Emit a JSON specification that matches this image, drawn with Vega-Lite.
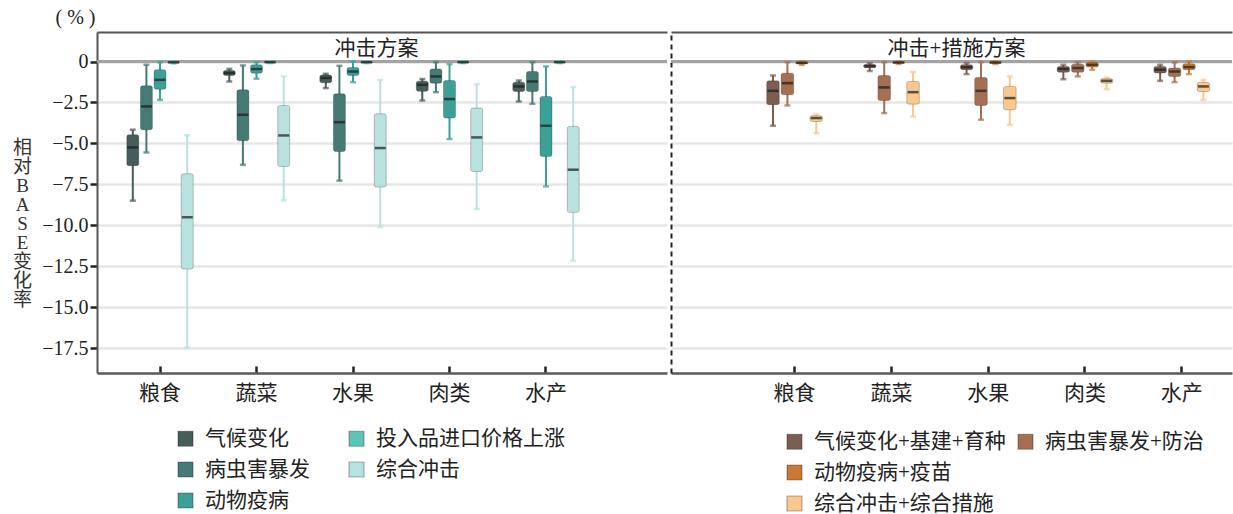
{
  "$schema": "https://vega.github.io/schema/vega-lite/v6.json",
  "background": "white",
  "padding": {"left": 12, "top": 8, "right": 1, "bottom": 0},
  "title": {
    "text": "( % )",
    "anchor": "start",
    "frame": "bounds",
    "dx": 43,
    "offset": 4,
    "font": "Liberation Serif",
    "fontSize": 20,
    "fontWeight": "normal",
    "color": "#222"
  },
  "datasets": {
    "shock": [
      {"food": "粮食", "scen": "气候变化", "min": -8.49, "q1": -6.36, "med": -5.24, "q3": -4.47, "max": -4.16},
      {"food": "粮食", "scen": "病虫害暴发", "min": -5.55, "q1": -4.16, "med": -2.74, "q3": -1.48, "max": -0.2},
      {"food": "粮食", "scen": "动物疫病", "min": -2.34, "q1": -1.69, "med": -1.12, "q3": -0.5, "max": -0.04},
      {"food": "粮食", "scen": "投入品进口价格上涨", "min": -0.12, "q1": -0.08, "med": -0.05, "q3": -0.02, "max": 0},
      {"food": "粮食", "scen": "综合冲击", "min": -17.44, "q1": -12.66, "med": -9.5, "q3": -6.85, "max": -4.5},
      {"food": "蔬菜", "scen": "气候变化", "min": -1.22, "q1": -0.85, "med": -0.7, "q3": -0.55, "max": -0.45},
      {"food": "蔬菜", "scen": "病虫害暴发", "min": -6.3, "q1": -4.84, "med": -3.25, "q3": -1.73, "max": -0.24},
      {"food": "蔬菜", "scen": "动物疫病", "min": -1.05, "q1": -0.71, "med": -0.46, "q3": -0.2, "max": -0.04},
      {"food": "蔬菜", "scen": "投入品进口价格上涨", "min": -0.1, "q1": -0.07, "med": -0.04, "q3": -0.02, "max": 0},
      {"food": "蔬菜", "scen": "综合冲击", "min": -8.47, "q1": -6.4, "med": -4.51, "q3": -2.68, "max": -0.91},
      {"food": "水果", "scen": "气候变化", "min": -1.62, "q1": -1.3, "med": -1.0, "q3": -0.82, "max": -0.75},
      {"food": "水果", "scen": "病虫害暴发", "min": -7.27, "q1": -5.49, "med": -3.7, "q3": -1.97, "max": -0.26},
      {"food": "水果", "scen": "动物疫病", "min": -1.26, "q1": -0.85, "med": -0.61, "q3": -0.36, "max": 0},
      {"food": "水果", "scen": "投入品进口价格上涨", "min": -0.1, "q1": -0.07, "med": -0.04, "q3": -0.02, "max": 0},
      {"food": "水果", "scen": "综合冲击", "min": -10.1, "q1": -7.66, "med": -5.28, "q3": -3.19, "max": -1.12},
      {"food": "肉类", "scen": "气候变化", "min": -2.38, "q1": -1.82, "med": -1.42, "q3": -1.2, "max": -1.07},
      {"food": "肉类", "scen": "病虫害暴发", "min": -1.87, "q1": -1.32, "med": -0.91, "q3": -0.45, "max": -0.04},
      {"food": "肉类", "scen": "动物疫病", "min": -4.73, "q1": -3.45, "med": -2.29, "q3": -1.16, "max": -0.16},
      {"food": "肉类", "scen": "投入品进口价格上涨", "min": -0.1, "q1": -0.07, "med": -0.04, "q3": -0.02, "max": 0},
      {"food": "肉类", "scen": "综合冲击", "min": -9.0, "q1": -6.71, "med": -4.63, "q3": -2.84, "max": -1.38},
      {"food": "水产", "scen": "气候变化", "min": -2.44, "q1": -1.83, "med": -1.52, "q3": -1.26, "max": -1.16},
      {"food": "水产", "scen": "病虫害暴发", "min": -2.58, "q1": -1.83, "med": -1.22, "q3": -0.61, "max": -0.04},
      {"food": "水产", "scen": "动物疫病", "min": -7.62, "q1": -5.79, "med": -3.92, "q3": -2.13, "max": -0.3},
      {"food": "水产", "scen": "投入品进口价格上涨", "min": -0.1, "q1": -0.07, "med": -0.04, "q3": -0.02, "max": 0},
      {"food": "水产", "scen": "综合冲击", "min": -12.15, "q1": -9.2, "med": -6.6, "q3": -3.96, "max": -1.56}
    ],
    "measures": [
      {"food": "粮食", "scen": "气候变化+基建+育种", "min": -3.92, "q1": -2.64, "med": -1.79, "q3": -1.18, "max": -0.85},
      {"food": "粮食", "scen": "病虫害暴发+防治", "min": -2.68, "q1": -2.03, "med": -1.32, "q3": -0.71, "max": -0.04},
      {"food": "粮食", "scen": "动物疫病+疫苗", "min": -0.2, "q1": -0.14, "med": -0.08, "q3": -0.03, "max": 0},
      {"food": "粮食", "scen": "综合冲击+综合措施", "min": -4.37, "q1": -3.66, "med": -3.45, "q3": -3.31, "max": -3.21},
      {"food": "蔬菜", "scen": "气候变化+基建+育种", "min": -0.58, "q1": -0.38, "med": -0.28, "q3": -0.18, "max": -0.1},
      {"food": "蔬菜", "scen": "病虫害暴发+防治", "min": -3.15, "q1": -2.38, "med": -1.58, "q3": -0.85, "max": -0.04},
      {"food": "蔬菜", "scen": "动物疫病+疫苗", "min": -0.15, "q1": -0.1, "med": -0.06, "q3": -0.03, "max": 0},
      {"food": "蔬菜", "scen": "综合冲击+综合措施", "min": -3.35, "q1": -2.6, "med": -1.87, "q3": -1.22, "max": -0.65},
      {"food": "水果", "scen": "气候变化+基建+育种", "min": -0.77, "q1": -0.5, "med": -0.35, "q3": -0.2, "max": -0.1},
      {"food": "水果", "scen": "病虫害暴发+防治", "min": -3.55, "q1": -2.68, "med": -1.79, "q3": -0.98, "max": -0.04},
      {"food": "水果", "scen": "动物疫病+疫苗", "min": -0.15, "q1": -0.1, "med": -0.06, "q3": -0.03, "max": 0},
      {"food": "水果", "scen": "综合冲击+综合措施", "min": -3.86, "q1": -2.94, "med": -2.23, "q3": -1.52, "max": -0.91},
      {"food": "肉类", "scen": "气候变化+基建+育种", "min": -1.08, "q1": -0.65, "med": -0.45, "q3": -0.3, "max": -0.2},
      {"food": "肉类", "scen": "病虫害暴发+防治", "min": -0.91, "q1": -0.65, "med": -0.4, "q3": -0.16, "max": -0.05},
      {"food": "肉类", "scen": "动物疫病+疫苗", "min": -0.5, "q1": -0.34, "med": -0.2, "q3": -0.06, "max": 0},
      {"food": "肉类", "scen": "综合冲击+综合措施", "min": -1.69, "q1": -1.32, "med": -1.18, "q3": -1.05, "max": -0.98},
      {"food": "水产", "scen": "气候变化+基建+育种", "min": -1.18, "q1": -0.7, "med": -0.5, "q3": -0.3, "max": -0.2},
      {"food": "水产", "scen": "病虫害暴发+防治", "min": -1.26, "q1": -0.91, "med": -0.61, "q3": -0.4, "max": -0.05},
      {"food": "水产", "scen": "动物疫病+疫苗", "min": -0.77, "q1": -0.5, "med": -0.34, "q3": -0.14, "max": 0},
      {"food": "水产", "scen": "综合冲击+综合措施", "min": -2.34, "q1": -1.83, "med": -1.52, "q3": -1.28, "max": -1.12}
    ]
  },
  "spacing": 0,
  "hconcat": [
    {
      "width": 570,
      "height": 341,
      "data": {"name": "shock"},
      "resolve": {"axis": {"x": "independent"}},
      "layer": [
        {
          "mark": {"type": "rule", "color": "#a3a3a3", "strokeWidth": 3},
          "encoding": {"y": {"datum": 0, "type": "quantitative"}}
        },
        {
          "mark": {"type": "rule", "strokeWidth": 2},
          "encoding": {
            "x": {
              "field": "food", "type": "nominal",
              "scale": {"domain": ["粮食", "蔬菜", "水果", "肉类", "水产"], "paddingInner": 0.295, "paddingOuter": 0.601, "align": 0.25},
              "axis": {
                "orient": "bottom", "title": null, "labelAngle": 0,
                "domainColor": "#5a5a5a", "domainWidth": 2.5,
                "tickColor": "#222", "tickWidth": 2.5, "tickSize": -7,
                "labelPadding": 16, "labelFont": "Noto Sans CJK SC", "labelFontSize": 21, "labelColor": "#222",
                "grid": false
              }
            },
            "xOffset": {
              "field": "scen", "type": "nominal",
              "scale": {"domain": ["气候变化", "病虫害暴发", "动物疫病", "投入品进口价格上涨", "综合冲击"], "paddingInner": 0.12, "paddingOuter": 0.06}
            },
            "y": {
              "field": "min", "type": "quantitative",
              "scale": {"domain": [-19, 1.8], "nice": false, "zero": false},
              "axis": {
                "values": [0, -2.5, -5, -7.5, -10, -12.5, -15, -17.5],
                "labelExpr": "datum.value === 0 ? '0' : format(datum.value, '.1f')",
                "domainColor": "#555", "domainWidth": 2,
                "tickColor": "#222", "tickWidth": 2.5, "tickSize": 7,
                "labelPadding": 2, "labelFont": "Liberation Serif", "labelFontSize": 20, "labelColor": "#222",
                "grid": true, "gridColor": "#e6e6e6", "gridWidth": 2.5,
                "title": ["相", "对", "B", "A", "S", "E", "变", "化", "率"],
                "titleAngle": 0, "titleAlign": "center", "titleBaseline": "middle",
                "titleX": -75, "titleY": 115,
                "titleFont": "Liberation Serif, Noto Sans CJK SC", "titleFontSize": 19,
                "titleFontWeight": "normal", "titleLineHeight": 19, "titleColor": "#333"
              }
            },
            "y2": {"field": "max"},
            "stroke": {
              "field": "scen", "type": "nominal",
              "scale": {
                "domain": ["综合冲击", "投入品进口价格上涨", "动物疫病", "病虫害暴发", "气候变化"],
                "range": ["#b9e1df", "#5fc4b8", "#3da096", "#457a75", "#465e5b"]
              },
              "legend": null
            }
          }
        },
        {
          "mark": {"type": "tick", "size": 6, "thickness": 2.5},
          "encoding": {
            "x": {"field": "food", "type": "nominal", "axis": null},
            "xOffset": {"field": "scen", "type": "nominal"},
            "y": {"field": "min", "type": "quantitative"},
            "fill": {
              "field": "scen", "type": "nominal",
              "scale": {
                "domain": ["综合冲击", "投入品进口价格上涨", "动物疫病", "病虫害暴发", "气候变化"],
                "range": ["#b9e1df", "#5fc4b8", "#3da096", "#457a75", "#465e5b"]
              },
              "legend": null
            }
          }
        },
        {
          "mark": {"type": "tick", "size": 6, "thickness": 2.5},
          "encoding": {
            "x": {"field": "food", "type": "nominal", "axis": null},
            "xOffset": {"field": "scen", "type": "nominal"},
            "y": {"field": "max", "type": "quantitative"},
            "fill": {"field": "scen", "type": "nominal", "legend": null}
          }
        },
        {
          "mark": {"type": "bar", "cornerRadius": 2, "stroke": "#000", "strokeOpacity": 0.22, "strokeWidth": 1, "opacity": 1},
          "encoding": {
            "x": {
              "field": "food", "type": "nominal",
              "axis": {
                "orient": "top", "labels": false, "ticks": false, "grid": false,
                "domainColor": "#555", "domainWidth": 2,
                "title": "冲击方案", "titleX": 279, "titleY": 16,
                "titleAlign": "center", "titleBaseline": "middle",
                "titleFont": "Noto Sans CJK SC", "titleFontSize": 21, "titleFontWeight": "normal", "titleColor": "#222"
              }
            },
            "xOffset": {"field": "scen", "type": "nominal"},
            "y": {"field": "q1", "type": "quantitative"},
            "y2": {"field": "q3"},
            "color": {
              "field": "scen", "type": "nominal",
              "scale": {
                "domain": ["气候变化", "病虫害暴发", "动物疫病", "投入品进口价格上涨", "综合冲击"],
                "range": ["#465e5b", "#457a75", "#3da096", "#5fc4b8", "#b9e1df"]
              },
              "legend": {
                "orient": "none", "legendX": 78, "legendY": 396,
                "title": null, "columns": 2, "columnPadding": 36, "rowPadding": 9,
                "symbolType": "square", "symbolSize": 225, "symbolOpacity": 1,
                "symbolStrokeWidth": 1.2, "symbolStrokeColor": "rgba(0,0,0,0.3)",
                "labelFont": "Noto Sans CJK SC", "labelFontSize": 21, "labelColor": "#222", "labelOffset": 9,
                "labelLimit": 400
              }
            }
          }
        },
        {
          "mark": {"type": "tick", "color": "#1b1b1b", "thickness": 2.5, "size": 11},
          "encoding": {
            "x": {"field": "food", "type": "nominal", "axis": null},
            "xOffset": {"field": "scen", "type": "nominal"},
            "y": {"field": "med", "type": "quantitative"}
          }
        }
      ]
    },
    {
      "width": 561,
      "height": 341,
      "data": {"name": "measures"},
      "resolve": {"axis": {"x": "independent"}},
      "layer": [
        {
          "mark": {"type": "rule", "color": "#a3a3a3", "strokeWidth": 3},
          "encoding": {"y": {"datum": 0, "type": "quantitative"}}
        },
        {
          "mark": {"type": "rule", "strokeWidth": 2},
          "encoding": {
            "x": {
              "field": "food", "type": "nominal",
              "scale": {"domain": ["粮食", "蔬菜", "水果", "肉类", "水产"], "paddingInner": 0.404, "paddingOuter": 0.6, "align": 0.816},
              "axis": {
                "orient": "bottom", "title": null, "labelAngle": 0,
                "domainColor": "#5a5a5a", "domainWidth": 2.5,
                "tickColor": "#222", "tickWidth": 2.5, "tickSize": -7,
                "labelPadding": 16, "labelFont": "Noto Sans CJK SC", "labelFontSize": 21, "labelColor": "#222",
                "grid": false
              }
            },
            "xOffset": {
              "field": "scen", "type": "nominal",
              "scale": {"domain": ["气候变化+基建+育种", "病虫害暴发+防治", "动物疫病+疫苗", "综合冲击+综合措施"], "paddingInner": 0.13, "paddingOuter": 0.065}
            },
            "y": {
              "field": "min", "type": "quantitative",
              "scale": {"domain": [-19, 1.8], "nice": false, "zero": false},
              "axis": {
                "values": [0, -2.5, -5, -7.5, -10, -12.5, -15, -17.5],
                "labels": false, "ticks": false, "title": null,
                "domainColor": "#222", "domainWidth": 2, "domainDash": [5, 4],
                "grid": true, "gridColor": "#e6e6e6", "gridWidth": 2.5
              }
            },
            "y2": {"field": "max"},
            "stroke": {
              "field": "scen", "type": "nominal",
              "scale": {
                "domain": ["气候变化+基建+育种", "病虫害暴发+防治", "动物疫病+疫苗", "综合冲击+综合措施"],
                "range": ["#7b5e50", "#a46f52", "#c97934", "#f9c98f"]
              },
              "legend": null
            }
          }
        },
        {
          "mark": {"type": "tick", "size": 6, "thickness": 2.5},
          "encoding": {
            "x": {"field": "food", "type": "nominal", "axis": null},
            "xOffset": {"field": "scen", "type": "nominal"},
            "y": {"field": "min", "type": "quantitative"},
            "fill": {
              "field": "scen", "type": "nominal",
              "scale": {
                "domain": ["气候变化+基建+育种", "病虫害暴发+防治", "动物疫病+疫苗", "综合冲击+综合措施"],
                "range": ["#7b5e50", "#a46f52", "#c97934", "#f9c98f"]
              },
              "legend": null
            }
          }
        },
        {
          "mark": {"type": "tick", "size": 6, "thickness": 2.5},
          "encoding": {
            "x": {"field": "food", "type": "nominal", "axis": null},
            "xOffset": {"field": "scen", "type": "nominal"},
            "y": {"field": "max", "type": "quantitative"},
            "fill": {"field": "scen", "type": "nominal", "legend": null}
          }
        },
        {
          "mark": {"type": "bar", "cornerRadius": 2, "stroke": "#000", "strokeOpacity": 0.22, "strokeWidth": 1, "opacity": 1},
          "encoding": {
            "x": {
              "field": "food", "type": "nominal",
              "axis": {
                "orient": "top", "labels": false, "ticks": false, "grid": false,
                "domainColor": "#555", "domainWidth": 2,
                "title": "冲击+措施方案", "titleX": 285, "titleY": 16,
                "titleAlign": "center", "titleBaseline": "middle",
                "titleFont": "Liberation Serif, Noto Sans CJK SC", "titleFontSize": 21, "titleFontWeight": "normal", "titleColor": "#222"
              }
            },
            "xOffset": {"field": "scen", "type": "nominal"},
            "y": {"field": "q1", "type": "quantitative"},
            "y2": {"field": "q3"},
            "color": {
              "field": "scen", "type": "nominal",
              "scale": {
                "domain": ["气候变化+基建+育种", "动物疫病+疫苗", "综合冲击+综合措施", "病虫害暴发+防治", " "],
                "range": ["#7b5e50", "#c97934", "#f9c98f", "#a46f52", "rgba(0,0,0,0)"]
              },
              "legend": {
                "orient": "none", "legendX": 113, "legendY": 399,
                "title": null, "columns": 2, "columnPadding": 9, "rowPadding": 9,
                "symbolType": "square", "symbolSize": 225, "symbolOpacity": 1,
                "symbolStrokeWidth": 1.2, "symbolStrokeColor": "rgba(0,0,0,0.3)",
                "labelFont": "Liberation Serif, Noto Sans CJK SC", "labelFontSize": 21, "labelColor": "#222", "labelOffset": 9,
                "labelLimit": 400,
                "encode": {"symbols": {"update": {"opacity": {"signal": "datum.value === ' ' ? 0 : 1"}}}}
              }
            }
          }
        },
        {
          "mark": {"type": "tick", "color": "#1b1b1b", "thickness": 2.5, "size": 11},
          "encoding": {
            "x": {"field": "food", "type": "nominal", "axis": null},
            "xOffset": {"field": "scen", "type": "nominal"},
            "y": {"field": "med", "type": "quantitative"}
          }
        }
      ]
    }
  ],
  "resolve": {
    "scale": {"x": "independent", "xOffset": "independent", "y": "independent", "color": "independent", "stroke": "independent", "fill": "independent"},
    "legend": {"color": "independent"},
    "axis": {"x": "independent", "y": "independent"}
  },
  "config": {
    "view": {"stroke": null},
    "font": "Liberation Serif, Noto Sans CJK SC"
  }
}
